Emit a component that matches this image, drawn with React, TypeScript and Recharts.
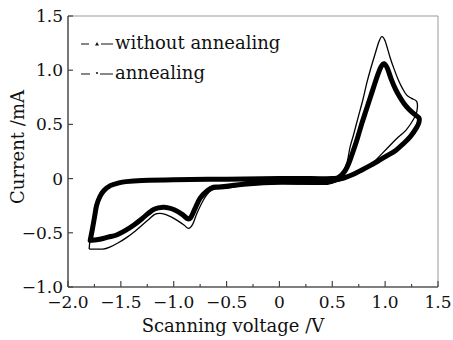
import React from 'react';
import { LineChart, Line, XAxis, YAxis, Legend, ReferenceLine } from 'recharts';

// ---------- data ----------
const xTicks = [-2, -1.75, -1.5, -1.25, -1, -0.75, -0.5, -0.25, 0, 0.25, 0.5, 0.75, 1, 1.25, 1.5];
const xMajorTicks = [-2, -1.5, -1, -0.5, 0, 0.5, 1, 1.5];
const yTicks = [-1, -0.5, 0, 0.5, 1, 1.5];

const seriesNames = ['without annealing', 'annealing'];

// without annealing (thin line), voltage (V) and current (mA) along the loop
const withoutVoltage = [
  -1.8, -1.79, -1.77, -1.75, -1.73, -1.7, -1.66, -1.6, -1.52, -1.45, -1.3, -1.0, -0.5, 0.0, 0.5,
  0.55, 0.6, 0.64, 0.668, 0.7, 0.746, 0.79, 0.826, 0.865, 0.905, 0.94, 0.968, 1.0, 1.046, 1.085,
  1.125, 1.165, 1.204, 1.25, 1.3, 1.3, 1.27, 1.2, 1.11, 1.02, 0.95, 0.88, 0.8, 0.7, 0.6, 0.5, 0.4,
  0.2, 0.0, -0.3, -0.5, -0.6, -0.66, -0.72, -0.78, -0.82, -0.86, -0.9, -0.96, -1.02, -1.08, -1.13,
  -1.18, -1.24, -1.3, -1.36, -1.44, -1.52, -1.6, -1.67, -1.8,
];
const withoutCurrent = [
  -0.65, -0.55, -0.45, -0.35, -0.25, -0.17, -0.11, -0.065, -0.04, -0.028, -0.018, -0.01, -0.005, 0.0, 0.0,
  0.01, 0.06, 0.15, 0.29, 0.4, 0.57, 0.73, 0.88, 1.02, 1.15, 1.26, 1.31, 1.27, 1.12, 1.01,
  0.91, 0.83, 0.77, 0.74, 0.71, 0.62, 0.55, 0.45, 0.37, 0.28, 0.21, 0.14, 0.08, 0.03, -0.01, -0.04, -0.05,
  -0.05, -0.045, -0.06, -0.09, -0.095, -0.12, -0.2, -0.32, -0.42, -0.46, -0.43, -0.39, -0.355, -0.33, -0.32,
  -0.33, -0.38, -0.43, -0.48, -0.54, -0.59, -0.63, -0.65, -0.65,
];

// annealing (thick line)
const annealVoltage = [
  -1.79, -1.77, -1.75, -1.73, -1.7, -1.66, -1.6, -1.52, -1.45, -1.3, -1.0, -0.5, 0.0, 0.3, 0.5,
  0.56, 0.62, 0.66, 0.7, 0.74, 0.78, 0.82, 0.86, 0.9, 0.935, 0.96, 0.99, 1.02, 1.06, 1.1, 1.14,
  1.18, 1.22, 1.27, 1.32, 1.32, 1.3, 1.24, 1.17, 1.1, 1.015, 0.93, 0.857, 0.78, 0.7, 0.62, 0.54,
  0.45, 0.3, 0.0, -0.31, -0.55, -0.625, -0.68, -0.75, -0.8, -0.84, -0.87, -0.92, -0.99, -1.05,
  -1.1, -1.18, -1.24, -1.3, -1.38, -1.46, -1.54, -1.62, -1.7, -1.79,
];
const annealCurrent = [
  -0.57, -0.47, -0.36, -0.25, -0.17, -0.11, -0.065, -0.04, -0.028, -0.018, -0.01, -0.005, 0.0, 0.0, 0.0,
  0.01, 0.07, 0.15, 0.26, 0.38, 0.51, 0.63, 0.75, 0.87, 0.97, 1.03, 1.06, 1.02, 0.91, 0.82, 0.75,
  0.69, 0.645, 0.6, 0.56, 0.52, 0.475, 0.39, 0.32, 0.26, 0.21, 0.16, 0.12, 0.08, 0.04, 0.01, -0.01,
  -0.035, -0.035, -0.034, -0.05, -0.075, -0.08, -0.11, -0.18, -0.28, -0.36, -0.37, -0.33, -0.29, -0.27,
  -0.265, -0.28, -0.32, -0.37, -0.43, -0.48, -0.52, -0.54, -0.56, -0.57,
];

const zip = (vs: number[], is: number[]) => vs.map((v, k) => ({ v, i: is[k] }));
const withoutData = zip(withoutVoltage, withoutCurrent);
const annealData = zip(annealVoltage, annealCurrent);

// ---------- helpers ----------
const FONT = '"DejaVu Serif", serif';

const fmt = (val: number) => {
  if (Math.abs(val) < 1e-9) return '0';
  const s = Math.abs(val).toFixed(1);
  return val < 0 ? '\u2212' + s : s;
};

// Catmull-Rom curve factory (smooth curve through the points)
const catmullRom = (context: any) => {
  let pts: number[][] = [];
  return {
    areaStart() {},
    areaEnd() {},
    lineStart() {
      pts = [];
    },
    point(x: number, y: number) {
      pts.push([+x, +y]);
    },
    lineEnd() {
      const n = pts.length;
      if (!n) return;
      context.moveTo(pts[0][0], pts[0][1]);
      for (let k = 0; k < n - 1; k++) {
        const p0 = pts[Math.max(k - 1, 0)];
        const p1 = pts[k];
        const p2 = pts[k + 1];
        const p3 = pts[Math.min(k + 2, n - 1)];
        const t = 1 / 6;
        context.bezierCurveTo(
          p1[0] + (p2[0] - p0[0]) * t,
          p1[1] + (p2[1] - p0[1]) * t,
          p2[0] - (p3[0] - p1[0]) * t,
          p2[1] - (p3[1] - p1[1]) * t,
          p2[0],
          p2[1]
        );
      }
    },
  };
};

const XTick = (props: any) => {
  const { x, y, payload } = props;
  const v = payload.value;
  const major = xMajorTicks.some((m) => Math.abs(m - v) < 1e-9);
  return (
    <g>
      <line x1={x} x2={x} y1={y} y2={y - (major ? 6 : 3)} stroke="#444" strokeWidth={1.2} />
      {major && (
        <text x={x} y={y + 15} textAnchor="middle" dominantBaseline="central" fontFamily={FONT} fontSize={17} fill="#111">
          {fmt(v)}
        </text>
      )}
    </g>
  );
};

const YTick = (props: any) => {
  const { x, y, payload } = props;
  return (
    <g>
      <line x1={x} x2={x + 5} y1={y} y2={y} stroke="#444" strokeWidth={1.2} />
      <text x={x - 5} y={y} textAnchor="end" dominantBaseline="central" fontFamily={FONT} fontSize={17} fill="#111">
        {fmt(payload.value)}
      </text>
    </g>
  );
};

const LegendContent = () => (
  <div style={{ fontFamily: FONT, fontSize: 18, color: '#111', lineHeight: '30px' }}>
    <div style={{ display: 'flex', alignItems: 'center', height: 30 }}>
      <svg width={34} height={30} style={{ display: 'block' }}>
        <line x1={0} x2={8} y1={16} y2={16} stroke="#111" strokeWidth={1} />
        <polygon points="14,17.5 16,14 18,17.5" fill="#111" />
        <line x1={20} x2={32} y1={16} y2={16} stroke="#111" strokeWidth={1} />
      </svg>
      <span>{seriesNames[0]}</span>
    </div>
    <div style={{ display: 'flex', alignItems: 'center', height: 30 }}>
      <svg width={34} height={30} style={{ display: 'block' }}>
        <line x1={0} x2={9} y1={16} y2={16} stroke="#111" strokeWidth={1} />
        <circle cx={16} cy={15} r={1} fill="#111" />
        <line x1={19} x2={32} y1={16} y2={16} stroke="#111" strokeWidth={1} />
      </svg>
      <span>{seriesNames[1]}</span>
    </div>
  </div>
);

export default function App() {
  return (
    <div style={{ position: 'absolute', left: 0, top: 0, width: 453, height: 340, background: '#fff' }}>
      <LineChart width={453} height={340} margin={{ top: 16, right: 15, left: 10, bottom: 13 }}>
        <XAxis
          dataKey="v"
          type="number"
          domain={[-2, 1.5]}
          ticks={xTicks}
          interval={0}
          allowDataOverflow
          height={40}
          tickSize={0}
          tickMargin={0}
          tickLine={false}
          tick={<XTick />}
          axisLine={{ stroke: '#555', strokeWidth: 1.6 }}
          label={{
            content: () => (
              <text x={233} y={325} textAnchor="middle" dominantBaseline="central" fontFamily={FONT} fontSize={18} fill="#111">
                Scanning voltage /V
              </text>
            ),
          }}
        />
        <YAxis
          type="number"
          domain={[-1, 1.5]}
          ticks={yTicks}
          interval={0}
          allowDataOverflow
          width={58}
          tickSize={0}
          tickMargin={0}
          tickLine={false}
          tick={<YTick />}
          axisLine={{ stroke: '#555', strokeWidth: 1.6 }}
          label={{
            content: () => (
              <text
                x={17}
                y={147}
                transform="rotate(-90 17 147)"
                textAnchor="middle"
                dominantBaseline="central"
                fontFamily={FONT}
                fontSize={18}
                fill="#111"
              >
                Current /mA
              </text>
            ),
          }}
        />
        <ReferenceLine y={1.5} stroke="#999" strokeWidth={1} />
        <ReferenceLine x={1.5} stroke="#999" strokeWidth={1} />
        <Legend
          layout="vertical"
          align="center"
          verticalAlign="middle"
          content={<LegendContent />}
          wrapperStyle={{ left: 81, top: 28, width: 'auto', height: 'auto' }}
        />
        <Line
          data={withoutData}
          dataKey="i"
          name={seriesNames[0]}
          type={catmullRom as any}
          stroke="#000"
          strokeWidth={1.3}
          dot={false}
          activeDot={false}
          isAnimationActive={false}
          strokeLinejoin="round"
        />
        <Line
          data={annealData}
          dataKey="i"
          name={seriesNames[1]}
          type={catmullRom as any}
          stroke="#000"
          strokeWidth={5}
          dot={false}
          activeDot={false}
          isAnimationActive={false}
          strokeLinejoin="round"
          strokeLinecap="round"
        />
      </LineChart>
    </div>
  );
}
